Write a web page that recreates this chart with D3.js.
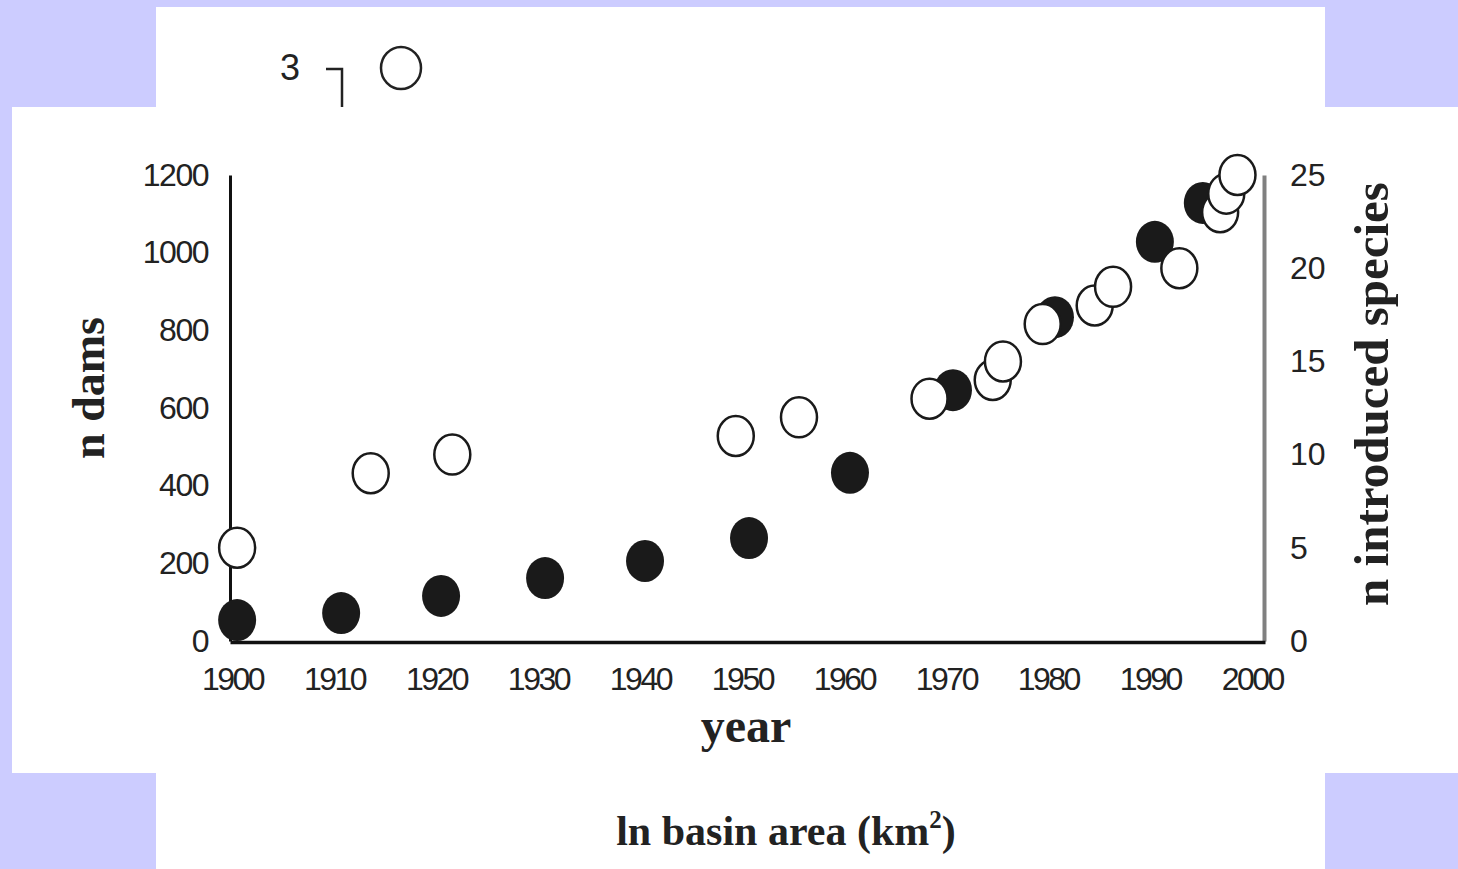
<!DOCTYPE html>
<html>
<head>
<meta charset="utf-8">
<script src="https://cdn.jsdelivr.net/npm/d3@7"></script>
<style>
  body { margin: 0; background: #ccccff; }
  svg { display: block; }
</style>
</head>
<body>
<div id="chart"></div>
<script>
// Data
const damYears = [1900.5, 1910.7, 1920.5, 1930.7, 1940.5, 1950.7, 1960.6, 1970.7, 1980.7, 1990.5, 1995.2];
const damCounts = [54, 72, 116, 162, 206, 265, 433, 646, 834, 1028, 1128];

const speciesYears = [1900.5, 1913.6, 1921.6, 1949.4, 1955.6, 1968.4, 1974.6, 1975.6, 1979.5, 1984.6, 1986.4, 1992.9, 1996.9, 1997.5, 1998.6];
const speciesCounts = [5, 9, 10, 11, 12, 13, 14, 15, 17, 18, 19, 20, 23, 24, 25];

const yearTicks = [1900, 1910, 1920, 1930, 1940, 1950, 1960, 1970, 1980, 1990, 2000];
const damTicks = [0, 200, 400, 600, 800, 1000, 1200];
const speciesTicks = [0, 5, 10, 15, 20, 25];

const W = 1458, H = 869;

const svg = d3.select('#chart')
    .append('svg')
    .attr('width', W)
    .attr('height', H);

// background panels (pieces of the page behind the chart)
svg.append('rect').attr('x', 0).attr('y', 0).attr('width', W).attr('height', H).attr('fill', '#ccccff');
svg.append('rect').attr('x', 156).attr('y', 7).attr('width', 1169).attr('height', 862).attr('fill', '#fff');
svg.append('rect').attr('x', 12).attr('y', 107).attr('width', 1446).attr('height', 666).attr('fill', '#fff');

// fragment of the figure above
svg.append('text')
    .attr('x', 290).attr('y', 67)
    .attr('text-anchor', 'middle').attr('dominant-baseline', 'central')
    .style('font-family', '"Liberation Sans", Arial, sans-serif')
    .style('font-size', '36px').attr('fill', '#222')
    .text('3');
svg.append('path')
    .attr('d', 'M326,69H342V107')
    .attr('fill', 'none').attr('stroke', '#222').attr('stroke-width', 2.5);
svg.append('ellipse')
    .attr('cx', 401).attr('cy', 68).attr('rx', 20).attr('ry', 21)
    .attr('fill', '#fff').attr('stroke', '#222').attr('stroke-width', 2.5);

// scales
const x = d3.scaleLinear().domain([1899.8, 2001.3]).range([230, 1265]);
const yDams = d3.scaleLinear().domain([0, 1200]).range([641, 175]);
const ySpecies = d3.scaleLinear().domain([0, 25]).range([641, 175]);

const sans = '"Liberation Sans", Arial, sans-serif';
const serif = '"Liberation Serif", "Times New Roman", serif';

// right axis (grey)
const rightAxis = svg.append('g')
    .attr('transform', 'translate(1264,0)')
    .call(d3.axisRight(ySpecies).tickValues(speciesTicks).tickFormat(d3.format('d'))
        .tickSize(0).tickSizeOuter(0).tickPadding(26));
rightAxis.select('.domain').attr('stroke', '#808080').attr('stroke-width', 4);
rightAxis.selectAll('text')
    .style('font-family', sans).style('font-size', '32px').attr('fill', '#222');

// left axis
const leftAxis = svg.append('g')
    .attr('transform', 'translate(230,0)')
    .call(d3.axisLeft(yDams).tickValues(damTicks).tickFormat(d3.format('d'))
        .tickSize(0).tickSizeOuter(0).tickPadding(22));
leftAxis.select('.domain').attr('stroke', '#111').attr('stroke-width', 3);
leftAxis.selectAll('text')
    .style('font-family', sans).style('font-size', '32px')
    .style('letter-spacing', '-1.5px').attr('fill', '#222');

// bottom axis
const bottomAxis = svg.append('g')
    .attr('transform', 'translate(0,642)')
    .call(d3.axisBottom(x).tickValues(yearTicks).tickFormat(d3.format('d'))
        .tickSize(0).tickSizeOuter(0).tickPadding(25));
bottomAxis.select('.domain').attr('stroke', '#111').attr('stroke-width', 3.5);
bottomAxis.selectAll('text')
    .style('font-family', sans).style('font-size', '32px')
    .style('letter-spacing', '-2.5px').attr('fill', '#222');

// dams (filled)
svg.append('g')
    .selectAll('ellipse')
    .data(damYears.map((d, i) => ({ year: d, n: damCounts[i] })))
    .enter()
    .append('ellipse')
    .attr('cx', d => x(d.year))
    .attr('cy', d => yDams(d.n))
    .attr('rx', 19).attr('ry', 21)
    .attr('fill', '#1a1a1a');

// introduced species (open)
svg.append('g')
    .selectAll('ellipse')
    .data(speciesYears.map((d, i) => ({ year: d, n: speciesCounts[i] })))
    .enter()
    .append('ellipse')
    .attr('cx', d => x(d.year))
    .attr('cy', d => ySpecies(d.n))
    .attr('rx', 18).attr('ry', 20)
    .attr('fill', '#fff')
    .attr('stroke', '#1a1a1a')
    .attr('stroke-width', 2.5);

// axis titles
svg.append('text')
    .attr('x', 746).attr('y', 742)
    .attr('text-anchor', 'middle')
    .style('font-family', serif).style('font-weight', 'bold').style('font-size', '48px')
    .attr('fill', '#222')
    .text('year');

svg.append('text')
    .attr('transform', 'translate(104,388) rotate(-90)')
    .attr('text-anchor', 'middle')
    .style('font-family', serif).style('font-weight', 'bold').style('font-size', '46px')
    .attr('fill', '#222')
    .text('n dams');

svg.append('text')
    .attr('transform', 'translate(1388,394) rotate(-90)')
    .attr('text-anchor', 'middle')
    .style('font-family', serif).style('font-weight', 'bold').style('font-size', '49px')
    .attr('fill', '#222')
    .text('n introduced species');

// caption fragment of the figure below
const cap = svg.append('text')
    .attr('x', 786).attr('y', 845)
    .attr('text-anchor', 'middle')
    .style('font-family', serif).style('font-weight', 'bold').style('font-size', '42px')
    .attr('fill', '#222');
cap.append('tspan').text('ln basin area (km');
cap.append('tspan').attr('dy', -17).style('font-size', '25px').text('2');
cap.append('tspan').attr('dy', 17).text(')');
</script>
</body>
</html>
